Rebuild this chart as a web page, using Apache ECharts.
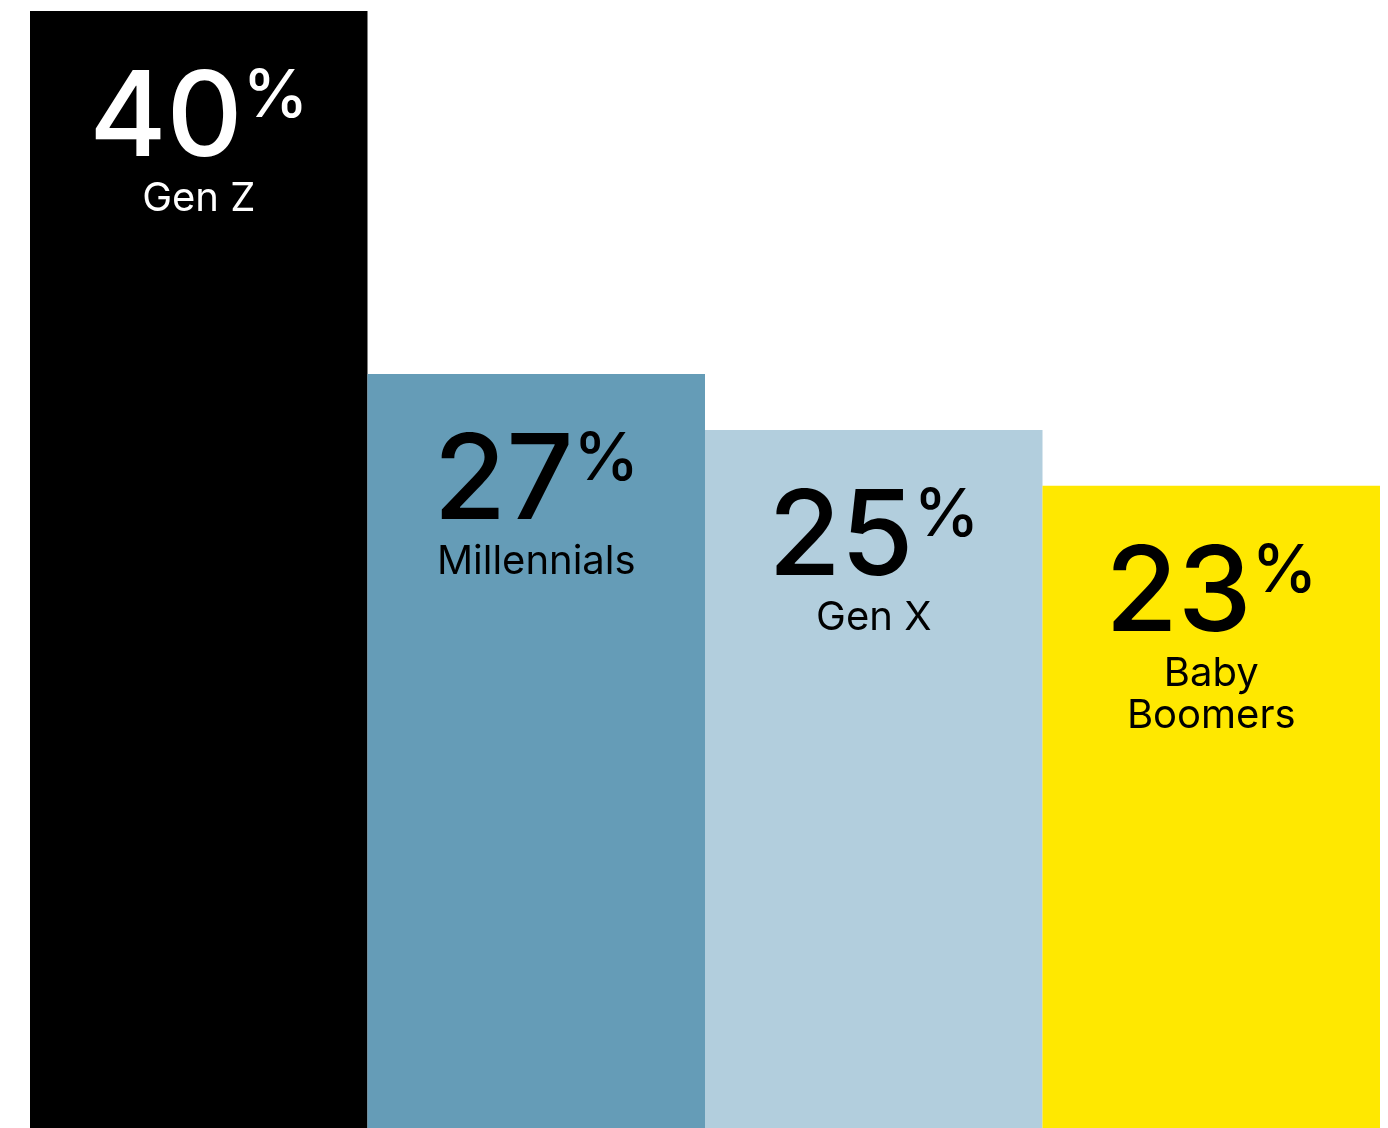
<!DOCTYPE html>
<html>
<head>
<meta charset="utf-8">
<script src="https://cdn.jsdelivr.net/npm/echarts@6/dist/echarts.min.js"></script>
<style>
  html, body { margin: 0; padding: 0; background: #fff; }
  #chart { width: 1388px; height: 1128px; }
</style>
</head>
<body>
<div id="chart"></div>
<script>
// generations and share (%)
const categories = ['Gen Z', 'Millennials', 'Gen X', 'Baby\nBoomers'];
const values = [40, 27, 25, 23];
const barColors = ['#000000', '#659cb7', '#b2cedd', '#ffe800'];
const labelColors = ['#ffffff', '#000000', '#000000', '#000000'];

const font = 'Inter, "Noto Sans", sans-serif';

let chart = echarts.init(document.getElementById('chart'));
chart.setOption({
  animation: false,
  grid: { left: 30, right: 8, top: 11, bottom: 0 },
  xAxis: {
    type: 'category',
    data: categories,
    show: false
  },
  yAxis: {
    type: 'value',
    min: 0,
    max: 40,
    show: false
  },
  series: [
    {
      type: 'bar',
      barCategoryGap: 0,
      data: values.map((v, i) => ({
        value: v,
        itemStyle: { color: barColors[i] },
        label: {
          rich: {
            num: { fontSize: 118, fontWeight: 500, fontFamily: font, color: labelColors[i], lineHeight: 114 },
            pct: { fontSize: 66, fontWeight: 500, fontFamily: font, color: labelColors[i], lineHeight: 72, verticalAlign: 'top' },
            name: { fontSize: 40, fontWeight: 400, fontFamily: font, color: labelColors[i], lineHeight: 42, align: 'center' }
          }
        }
      })),
      label: {
        show: true,
        position: 'insideTop',
        distance: 53,
        align: 'center',
        formatter: (p) => {
          const lines = p.name.split('\n').map(s => '{name|' + s + '}').join('\n');
          return '{num|' + p.value + '}{pct|%}\n' + lines;
        }
      }
    }
  ]
});
</script>
</body>
</html>
